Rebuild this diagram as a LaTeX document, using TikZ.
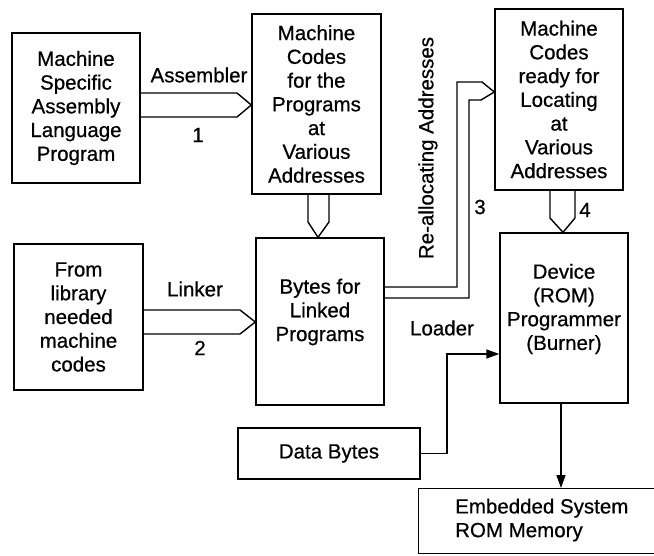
\documentclass[tikz,border=0pt]{standalone}
\usepackage{fontspec}
\setmainfont{Liberation Sans}[FakeBold=0.6]
\usetikzlibrary{arrows.meta,calc}

\tikzset{
  box/.style={draw, line width=1.4pt, rectangle, inner sep=0pt, align=center,
              font=\fontsize{20.5}{23.75}\selectfont},
  lbl/.style={inner sep=0pt, font=\fontsize{20.5}{23.75}\selectfont},
  pipe/.style={draw, line width=1.4pt, line join=miter},
  wire/.style={draw, line width=1.4pt, -{Triangle[length=13pt,width=9pt]}}
}

\begin{document}
\begin{tikzpicture}[x=1pt,y=-1pt]
  \clip (0,0) rectangle (654,556);
  \useasboundingbox (0,0) rectangle (654,556);

  % blocks
  \node[box, minimum width=128pt, minimum height=150pt] (asm) at (76,108)
    {Machine\\Specific\\Assembly\\Language\\Program};
  \node[box, minimum width=129pt, minimum height=180pt] (mc) at (316.5,104)
    {Machine\\Codes\\for the\\Programs\\at\\Various\\Addresses};
  \node[box, minimum width=129pt, minimum height=146pt] (lib) at (78.5,317)
    {From\\library\\needed\\machine\\codes};
  \node[box, minimum width=128pt, minimum height=167pt] (linked) at (320,321.5) {};
  \node[lbl, align=center] (linked-t) at (320,312) {Bytes for\\Linked\\Programs};
  \node[box, minimum width=128pt, minimum height=181pt] (ready) at (559,99.5)
    {Machine\\Codes\\ready for\\Locating\\at\\Various\\Addresses};
  \node[box, minimum width=128pt, minimum height=170pt] (prog) at (564,318) {};
  \node[lbl, align=center] (prog-t) at (564,309) {Device\\(ROM)\\Programmer\\(Burner)};
  \node[box, minimum width=182pt, minimum height=51pt] (data) at (329,453.5) {Data Bytes};
  \node[box, minimum width=252pt, minimum height=65pt, anchor=north west] (rom) at (418,488) {};
  \node[lbl, align=left, anchor=west] (rom-t) at (455,520) {Embedded System\\ROM Memory};

  % labels
  \node[lbl] (l-asm) at (199,75) {Assembler};
  \node[lbl] (n1) at (198,135) {1};
  \node[lbl] (l-link) at (195,289) {Linker};
  \node[lbl] (n2) at (200,348) {2};
  \node[lbl, rotate=90] (l-realloc) at (428,148) {Re-allocating Addresses};
  \node[lbl] (n3) at (480,207) {3};
  \node[lbl] (n4) at (585,210) {4};
  \node[lbl] (l-load) at (442,328) {Loader};

  % hollow block arrows
  \path[pipe] (asm.east |- 0,93) -- (237,93) -- (mc.west |- 0,105)
              -- (237,117) -- (asm.east |- 0,117);
  \path[pipe] (lib.east |- 0,310) -- (240,310) -- (linked.west |- 0,322)
              -- (240,334) -- (lib.east |- 0,334);
  \path[pipe] (308,0 |- mc.south) -- (308,222) -- (318,0 |- linked.north)
              -- (329,222) -- (329,0 |- mc.south);
  \path[pipe] (linked.east |- 0,287) -- (457,287) -- (457,82) -- (482,82)
              -- (ready.west |- 0,92) -- (481,100) -- (469,100) -- (469,298)
              -- (linked.east |- 0,298);
  \path[pipe] (550,0 |- ready.south) -- (550,218) -- (563,0 |- prog.north)
              -- (575,218) -- (575,0 |- ready.south);

  % line connectors
  \path[wire] (data.east) -- (447,0 |- data.east) -- (447,354) -- (prog.west |- 0,354);
  \path[wire] (561,0 |- prog.south) -- (561,0 |- rom.north);
\end{tikzpicture}
\end{document}
